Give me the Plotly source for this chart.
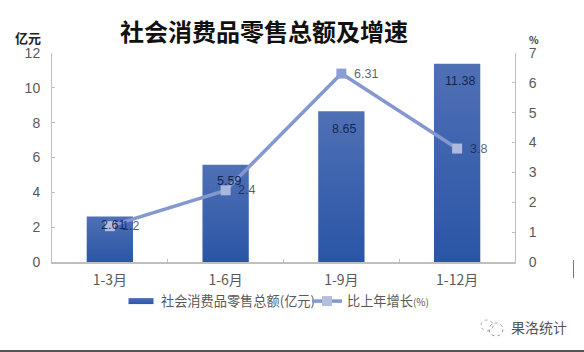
import plotly.graph_objects as go

categories = ["1-3月", "1-6月", "1-9月", "1-12月"]
sales = [2.61, 5.59, 8.65, 11.38]
growth = [1.2, 2.4, 6.31, 3.8]
sales_labels = ["2.61", "5.59", "8.65", "11.38"]
growth_labels = ["1.2", "2.4", "6.31", "3.8"]
sales_label_drop = [8, 16, 18, 17]

CJK = "Noto Sans CJK SC, Liberation Sans, sans-serif"
GREY = "#595959"
AXIS = "#bfbfbf"
LINE = "#8497cf"
LABEL = "rgba(16,28,62,0.72)"
BAR_LABEL = "rgba(14,28,72,0.92)"
L, R, T, B = 52, 69, 53, 90
W, H = 584 - L - R, 352 - T - B

def px(v):
    return (v - L) / W

def py(v):
    return (352 - B - v) / H

fig = go.Figure()
fig.add_trace(go.Bar(
    x=categories, y=sales, width=0.4, name="社会消费品零售总额(亿元)",
    marker=dict(color="#3f64ae", line=dict(width=0)),
))
fig.add_trace(go.Scatter(
    x=categories, y=growth, yaxis="y2",
    name='比上年增长<span style="font-size:10px">(%)</span>',
    mode="lines+markers",
    line=dict(color=LINE, width=3.5),
    marker=dict(symbol="square", size=10, color=["#b4bfe0", "#a9b6dd", "#8c9dd4", "#aebbe0"]),
))
annotations = [
    dict(x=c, y=v, xshift=3, yshift=-d, text=t, xref="x", yref="y", showarrow=False,
         font=dict(size=12.5, color=BAR_LABEL, family="Liberation Sans"))
    for c, v, t, d in zip(categories, sales, sales_labels, sales_label_drop)
]
annotations += [
    dict(x=c, y=v, xshift=12.5, text=t, xref="x", yref="y2", xanchor="left", showarrow=False,
         borderpad=0, borderwidth=0,
         font=dict(size=12.5, color=LABEL, family="Liberation Sans"))
    for c, v, t in zip(categories, growth, growth_labels)
]
annotations += [
    dict(x=px(264), y=py(31), xref="paper", yref="paper", xanchor="center", yanchor="middle",
         showarrow=False, text="<b>社会消费品零售总额及增速</b>",
         font=dict(size=24, color="#111111", family=CJK)),
    dict(x=px(28), y=py(38), xref="paper", yref="paper", xanchor="center", yanchor="middle",
         showarrow=False, text="<b>亿元</b>", font=dict(size=13, color="#222222", family=CJK)),
    dict(x=px(534), y=py(39), xref="paper", yref="paper", xanchor="center", yanchor="middle",
         showarrow=False, text="<b>%</b>", font=dict(size=10, color="#333333", family=CJK)),
    dict(x=px(509), y=py(327), xref="paper", yref="paper", xanchor="left", yanchor="middle",
         showarrow=False, text="果洛统计", font=dict(size=14, color="#555555", family=CJK)),
]
shapes = [
    dict(type="line", xref="paper", yref="paper", x0=px(573.5), x1=px(573.5),
         y0=py(260), y1=py(278), line=dict(color="#777777", width=1)),
    dict(type="line", xref="paper", yref="paper", x0=px(0), x1=px(584),
         y0=py(351), y1=py(351), line=dict(color="#555555", width=2)),
    dict(type="circle", xref="paper", yref="paper", x0=px(481), x1=px(493),
         y0=py(331), y1=py(320), line=dict(color="#aaaaaa", width=1, dash="dot")),
    dict(type="circle", xref="paper", yref="paper", x0=px(489), x1=px(503),
         y0=py(336), y1=py(323), line=dict(color="#999999", width=1, dash="dot")),
]
fig.update_layout(
    width=584, height=352, autosize=False,
    margin=dict(l=L, r=R, t=T, b=B),
    paper_bgcolor="white", plot_bgcolor="white",
    font=dict(family=CJK, color=GREY, size=13),
    annotations=annotations, shapes=shapes,
    legend=dict(orientation="h", x=px(121), y=py(286), xanchor="left", yanchor="top",
                font=dict(size=13.2, color=GREY), itemwidth=30,
                bgcolor="rgba(0,0,0,0)"),
    xaxis=dict(type="category", range=[-0.5, 3.5], tickson="boundaries", ticks="inside",
               ticklen=3, tickcolor=AXIS, showline=True, linecolor=AXIS, linewidth=1.5,
               showgrid=False, tickfont=dict(size=14, color=GREY, family=CJK),
               ticklabelstandoff=4),
    yaxis=dict(range=[0, 12], dtick=2, ticks="inside", ticklen=3, tickcolor=AXIS,
               showline=True, linecolor=AXIS, linewidth=1, showgrid=False, zeroline=False,
               ticklabelstandoff=8,
               tickfont=dict(size=14, color=GREY, family="Liberation Sans")),
    yaxis2=dict(range=[0, 7], dtick=1, overlaying="y", side="right", ticks="inside", ticklen=3,
                tickcolor=AXIS, showline=True, linecolor=AXIS, linewidth=1, showgrid=False,
                zeroline=False, ticklabelstandoff=10,
                tickfont=dict(size=14, color=GREY, family="Liberation Sans")),
)

post = """
document.documentElement.style.margin='0';
document.body.style.margin='0';
document.body.style.background='white';
var gd = document.querySelector('.js-plotly-plot');
function paint(){
  var svg = gd.querySelector('svg.main-svg');
  var ns = 'http://www.w3.org/2000/svg';
  if(!document.getElementById('bargrad')){
    var defs = svg.querySelector('defs') || svg.insertBefore(document.createElementNS(ns,'defs'), svg.firstChild);
    var g = document.createElementNS(ns,'linearGradient');
    g.setAttribute('id','bargrad'); g.setAttribute('x1','0'); g.setAttribute('y1','0');
    g.setAttribute('x2','0'); g.setAttribute('y2','1');
    [['0','#4f70b5'],['1','#2a55a6']].forEach(function(p){
      var s = document.createElementNS(ns,'stop');
      s.setAttribute('offset',p[0]); s.setAttribute('stop-color',p[1]); g.appendChild(s);
    });
    defs.appendChild(g);
  }
  gd.querySelectorAll('.bars .point path').forEach(function(p){ p.style.fill='url(#bargrad)'; });
  gd.querySelectorAll('.legend .legendbar, .legend .legendpoints path.legendundefined').forEach(function(p){
    p.style.fill='url(#bargrad)';
    p.setAttribute('d','M12.5,3H-12.5V-3H12.5Z');
  });
  var items = gd.querySelectorAll('.legend .traces');
  if(items.length > 1){
    var m = /translate\\(([-\\d.]+)[, ]+([-\\d.]+)\\)/.exec(items[1].getAttribute('transform'));
    if(m){ items[1].setAttribute('transform','translate('+(parseFloat(m[1])-13)+','+m[2]+')'); }
  }
}
paint();
"""
fig.write_html("out.html", post_script=post, config={"displayModeBar": False})
